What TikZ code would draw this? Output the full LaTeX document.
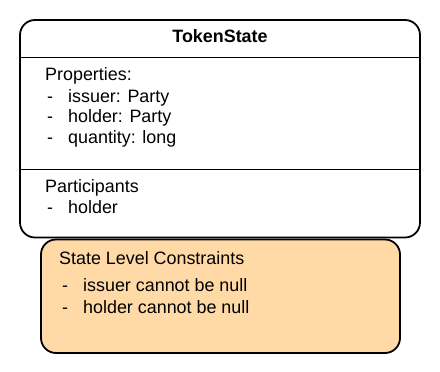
\documentclass[tikz,border=0pt]{standalone}
\usepackage{fontspec}
\setmainfont{Liberation Sans}
\definecolor{constraintfill}{HTML}{FFD9A6}
\begin{document}
\begin{tikzpicture}[x=1pt,y=-1pt,
  frame/.style={draw=black,line width=1.8pt,rounded corners=15pt},
  divider/.style={draw=black,line width=1.5pt},
  txt/.style={anchor=base west,inner sep=0pt,font=\fontsize{17.9}{21}\selectfont},
  title/.style={anchor=base,inner sep=0pt,font=\fontsize{17.9}{21}\selectfont\bfseries}]
\useasboundingbox (0,0) rectangle (440,372);
% class box for the state
\draw[frame,fill=white] (20,20) rectangle (420,237.5);
\draw[divider] (20,57.7) -- (420,57.7);
\draw[divider] (20,169.5) -- (420,169.5);
\node[title] (name) at (220,42) {TokenState};
% properties
\node[txt] (props) at (45,81) {Properties:};
\node[txt] (d1) at (47,102) {-};
\node[txt] (p1) at (68,102) {issuer: Party};
\node[txt] (d2) at (47,122.5) {-};
\node[txt] (p2) at (68,122.5) {holder: Party};
\node[txt] (d3) at (47,143) {-};
\node[txt] (p3) at (68,143) {quantity: long};
% participants
\node[txt] (parts) at (45,192) {Participants};
\node[txt] (d4) at (47,213) {-};
\node[txt] (q1) at (68,213) {holder};
% constraints box
\draw[frame,fill=constraintfill] (41,239.5) rectangle (400,353);
\node[txt] (cons) at (59,264.5) {State Level Constraints};
\node[txt] (d5) at (62,291) {-};
\node[txt] (c1) at (83,291) {issuer cannot be null};
\node[txt] (d6) at (62,313) {-};
\node[txt] (c2) at (83,313) {holder cannot be null};
\end{tikzpicture}
\end{document}
